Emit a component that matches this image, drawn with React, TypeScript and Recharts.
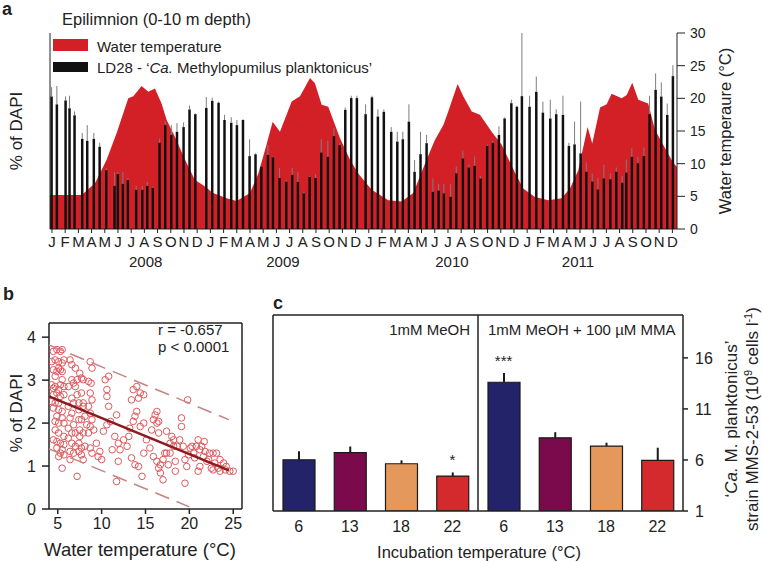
import React from "react";
import {
  ComposedChart,
  ScatterChart,
  Scatter,
  Area,
  Bar,
  ErrorBar,
  XAxis,
  YAxis,
  ReferenceLine,
  Cell,
} from "recharts";

// ---- panel a: monthly axis 2008-2011 (month index, J 2008 = 0)
const MONTH_LETTERS = ["J", "F", "M", "A", "M", "J", "J", "A", "S", "O", "N", "D"];
const MONTH_TICKS = Array.from({ length: 48 }, (_, i) => i);
const YEARS = ["2008", "2009", "2010", "2011"];
const YEAR_POS = [7.1, 17.5, 30.3, 39.85];

// LD28 sampling dates (month index), % of DAPI, and top of the error whisker
const LD28_MONTH = [
  0.0, 0.4, 1.06, 1.36, 1.74, 2.32, 2.7, 3.2, 3.64, 4.14, 4.77, 5.02, 5.4, 5.78, 6.41, 6.87, 7.25, 7.67,
  8.18, 8.61, 9.07, 9.5, 10.0, 10.45, 10.89, 11.34, 11.72, 12.17, 12.65, 13.1, 13.61, 14.04, 14.5, 15.0,
  15.45, 15.89, 16.39, 16.77, 17.27, 17.78, 18.23, 18.66, 19.11, 19.55, 20.0, 20.43, 20.93, 21.39, 21.82,
  22.25, 22.7, 23.13, 23.51, 23.79, 24.27, 24.72, 25.17, 25.73, 26.19, 26.61, 27.07, 27.5, 27.95, 28.41,
  28.89, 29.32, 29.72, 30.23, 30.66, 31.16, 31.61, 32.05, 32.5, 33.0, 33.43, 33.89, 34.32, 34.83, 35.25,
  35.63, 36.21, 36.72, 37.22, 37.78, 38.23, 38.74, 39.19, 39.62, 40.08, 40.51, 40.96, 41.39, 41.84, 42.33,
  42.78, 43.23, 43.54, 43.96, 44.42, 44.87, 45.3, 45.76, 46.19, 46.64, 47.07,
];
const LD28_DAPI = [
  3.38, 3.18, 3.28, 3.08, 2.9, 2.3, 2.25, 2.3, 2.1, 1.5, 1.1, 1.4, 1.15, 1.25, 1.0, 1.0, 1.1, 1.05,
  2.2, 2.65, 2.4, 2.48, 2.6, 3.05, 2.93, 0, 3.09, 3.27, 3.22, 2.78, 2.71, 2.65, 2.78, 1.86,
  1.91, 1.59, 1.89, 1.83, 1.3, 1.21, 1.38, 1.2, 0.91, 1.33, 1.3, 1.95, 1.84, 2.37, 2.14,
  3.04, 3.34, 3.34, 0, 2.93, 3.36, 2.87, 2.99, 2.48, 2.23, 2.29, 2.74, 1.46, 1.91, 2.19,
  0.95, 0.98, 0.91, 0.82, 1.42, 1.8, 1.57, 1.61, 1.29, 2.12, 2.2, 2.4, 2.82, 3.21, 3.12,
  3.39, 3.12, 3.5, 2.97, 2.82, 2.93, 2.91, 2.12, 2.16, 1.93, 1.46, 1.21, 1.01, 1.29, 1.27,
  1.46, 1.18, 1.44, 1.84, 1.68, 1.86, 2.93, 3.55, 3.38, 2.91, 3.9,
];
const LD28_TOP = [
  3.62, 3.65, 3.38, 3.4, 3.0, 2.45, 2.65, 2.45, 2.2, 1.55, 1.45, 1.45, 1.45, 1.3, 1.1, 1.1, 1.2, 1.08,
  2.3, 2.75, 2.65, 2.7, 2.72, 3.15, 2.95, 3.98, 3.37, 3.35, 3.25, 2.91, 2.85, 2.78, 2.8, 2.29,
  1.93, 1.6, 2.14, 1.85, 1.56, 1.25, 1.56, 1.45, 0.95, 1.35, 1.4, 2.29, 2.25, 2.57, 2.2,
  3.1, 3.4, 3.4, 3.93, 3.18, 3.4, 3.05, 3.05, 2.6, 2.48, 2.48, 3.18, 1.76, 2.48, 2.4,
  1.29, 1.15, 1.15, 1.15, 1.6, 2.0, 1.65, 1.85, 1.35, 2.15, 2.25, 2.62, 2.85, 3.3, 3.15,
  5.0, 3.4, 3.89, 3.25, 3.3, 3.05, 3.4, 2.2, 2.74, 3.25, 1.7, 1.42, 1.3, 1.64, 1.42,
  1.57, 1.35, 1.77, 2.06, 1.84, 2.08, 3.4, 3.97, 3.74, 3.2, 4.18,
];

// water temperature outline (month index, degrees C)
const TEMP_MONTH = [
  -0.15, 2.25, 3.26, 4.14, 4.9, 5.78, 6.16, 6.79, 7.3, 7.8, 8.3, 8.69, 9.32, 10.08, 10.83, 11.46,
  12.2, 13.23, 13.99, 15.0, 15.63, 16.14, 16.72, 17.27, 18.16, 18.79, 19.55, 19.92, 20.43, 20.93,
  21.82, 22.58, 23.2, 24.22, 25.48, 26.49, 27.37, 28.38, 29.0, 29.65, 30.02, 30.73, 31.16, 31.8,
  32.42, 33.31, 34.07, 35.08, 35.7, 36.59, 37.6, 38.61, 39.24, 39.87, 40.58, 40.93, 41.52, 42.02,
  42.4, 43.16, 43.54, 43.96, 44.42, 45.17, 45.68, 46.3, 47.07, 47.35,
];
const TEMP_C = [
  5.2, 5.2, 7.0, 10.6, 14.7, 20.0, 20.3, 21.9, 21.0, 21.5, 19.2, 16.7, 14.1, 10.6, 7.5, 6.7,
  5.5, 4.7, 4.3, 5.5, 8.5, 12.1, 16.4, 14.9, 19.5, 20.3, 23.1, 22.3, 19.0, 18.7,
  13.9, 10.6, 8.5, 6.0, 4.4, 4.2, 5.5, 10.6, 13.6, 15.9, 18.0, 22.2, 20.3, 18.0,
  17.5, 14.9, 12.9, 8.6, 6.2, 4.9, 4.4, 4.7, 6.2, 9.0, 15.6, 13.1, 18.6, 19.1,
  20.7, 20.0, 20.5, 22.4, 19.8, 19.2, 15.2, 12.9, 10.1, 9.5,
];

// ---- panel b: water temperature vs % of DAPI
const B_POINTS: [number, number][] = [
  [4.5, 3.67], [4.9, 3.71], [5.3, 3.67], [5.5, 3.71], [4.3, 3.43], [4.7, 3.47], [5.1, 3.43], [5.5, 3.4],
  [5.7, 3.47], [5.1, 3.28], [5.3, 3.24], [4.5, 3.24], [4.9, 3.2], [5.5, 3.2], [4.7, 3.09], [4.3, 2.89],
  [4.7, 2.85], [5.3, 2.89], [5.7, 2.85], [4.5, 2.81], [5.1, 2.78], [5.5, 3.01], [4.5, 2.66], [4.9, 2.7],
  [5.3, 2.62], [5.7, 2.66], [4.3, 2.5], [4.7, 2.47], [5.1, 2.47], [4.5, 2.35], [5.1, 2.31], [5.5, 2.27],
  [4.9, 2.16], [5.5, 2.12], [4.7, 2.04], [5.1, 2.0], [5.7, 2.0], [4.7, 1.84], [5.1, 1.77], [5.7, 1.69],
  [5.3, 1.53], [5.7, 1.5], [5.5, 1.38], [5.3, 1.3], [5.7, 1.26], [5.5, 0.95], [5.1, 1.22], [4.9, 1.57],
  [4.5, 1.61], [4.9, 1.42],
  [6.4, 3.47], [6.6, 3.36], [7.0, 3.28], [6.6, 3.01], [6.8, 2.93], [7.2, 3.01], [6.2, 2.85], [7.0, 2.85],
  [7.5, 3.16], [7.7, 3.05], [7.9, 3.01], [7.2, 2.66], [7.7, 2.7], [6.6, 2.58], [6.8, 2.47], [7.4, 2.47],
  [7.9, 2.47], [6.2, 2.39], [6.6, 2.23], [7.4, 2.31], [7.9, 2.39], [6.4, 2.12], [6.8, 1.96], [7.4, 2.08],
  [7.7, 2.08], [8.1, 2.16], [6.2, 1.88], [6.6, 1.77], [7.0, 1.77], [7.5, 1.69], [7.9, 1.77], [6.2, 1.65],
  [6.6, 1.53], [7.0, 1.46], [7.4, 1.53], [7.7, 1.42], [8.1, 1.46], [6.4, 1.34], [6.8, 1.3], [7.4, 1.34],
  [7.7, 1.26], [7.9, 1.15], [6.4, 1.15], [7.2, 0.76], [7.5, 1.84],
  [8.7, 3.43], [8.9, 3.28], [8.5, 2.97], [8.8, 2.93], [8.7, 2.7], [8.9, 2.54], [8.5, 2.39], [8.7, 2.23],
  [8.9, 2.08], [8.3, 1.96], [8.7, 1.92], [8.5, 1.77], [9.1, 1.84], [9.4, 1.53], [9.8, 1.34], [9.6, 1.22],
  [10.0, 1.15], [8.9, 1.3], [8.7, 1.42], [10.2, 1.81], [10.6, 1.96], [10.8, 3.09], [10.4, 3.01],
  [10.6, 2.78], [10.6, 2.62], [10.8, 2.39], [11.0, 2.04],
  [11.2, 1.38], [11.5, 1.69], [11.7, 2.19], [11.9, 1.53], [12.1, 1.38], [12.5, 1.61], [11.9, 1.11],
  [11.7, 0.64], [12.9, 1.46], [13.1, 1.69], [13.2, 1.88], [13.6, 2.04], [13.8, 2.16], [14.0, 2.27],
  [14.2, 2.58], [14.4, 2.7], [14.0, 2.85], [13.6, 2.78], [14.4, 1.92], [14.8, 1.3], [14.6, 0.76],
  [14.2, 0.99], [13.8, 1.03], [13.4, 1.19], [13.4, 2.54], [14.8, 2.66], [14.8, 2.0],
  [15.1, 1.61], [15.5, 1.42], [15.7, 1.84], [15.9, 2.08], [16.1, 2.19], [16.3, 2.27], [16.3, 2.0],
  [16.5, 2.04], [15.9, 1.22], [16.3, 1.11], [16.5, 0.95], [16.7, 1.03], [17.0, 1.15], [17.2, 1.3],
  [17.4, 1.3], [17.6, 1.03], [17.8, 1.3], [17.8, 1.53], [17.4, 1.81], [18.0, 1.69], [18.2, 1.61],
  [18.2, 1.46], [18.4, 1.11], [18.4, 0.88], [17.0, 0.68], [16.7, 0.84], [16.5, 1.77],
  [18.6, 1.46], [18.9, 1.61], [19.1, 1.92], [19.1, 2.12], [19.3, 1.46], [19.5, 1.15], [19.7, 0.99],
  [19.9, 1.26], [20.1, 1.42], [19.8, 2.54], [19.5, 0.6], [20.3, 1.46], [20.5, 1.3], [20.6, 1.19],
  [20.8, 1.46], [21.0, 1.61], [21.2, 1.38], [21.4, 1.46], [21.6, 1.22], [21.7, 1.57], [21.8, 1.34],
  [22.0, 1.11], [21.0, 0.88], [21.2, 0.99],
  [22.2, 1.15], [22.3, 1.3], [22.5, 0.95], [22.7, 1.3], [22.9, 1.07], [23.1, 1.3], [23.3, 0.95],
  [23.5, 1.15], [23.9, 1.07], [24.1, 0.91], [24.2, 0.99], [24.6, 0.88], [25.0, 0.88], [23.5, 0.88],
  [22.7, 0.91],
];
const FIT_LINE: [number, number][] = [[4, 2.62], [24.5, 0.9]];
const UPPER_LINE: [number, number][] = [[4, 3.82], [24.5, 2.08]];
const LOWER_LINE: [number, number][] = [[4, 1.4], [20, 0.05]];

// ---- panel c: incubation experiment
const INCUB_TEMPS = [6, 13, 18, 22, 6, 13, 18, 22];
const CELLS = [6.02, 6.71, 5.63, 4.42, 13.61, 8.17, 7.36, 5.96];
const CELLS_ERR = [0.84, 0.61, 0.33, 0.36, 0.92, 0.55, 0.33, 1.24];
const SIGNIF = ["", "", "", "*", "***", "", "", ""];
const C_COLORS = ["#23236a", "#7a0a4b", "#e4985b", "#d42a2e", "#23236a", "#7a0a4b", "#e4985b", "#d42a2e"];

const ldData = LD28_MONTH.map((m, i) => ({ m, ld: LD28_DAPI[i], err: [0, LD28_TOP[i] - LD28_DAPI[i]] }));
const tempData = TEMP_MONTH.map((m, i) => ({ m, temp: TEMP_C[i] }));

const bData = B_POINTS.map(([t, v]) => ({ t, v }));
const toLine = (pts: [number, number][]) => pts.map(([t, v]) => ({ t, v }));

const cData = CELLS.map((v, i) => ({
  i,
  v,
  err: [0, CELLS_ERR[i]],
  top: v + CELLS_ERR[i],
  sig: SIGNIF[i],
}));

const FONT = "'Liberation Sans', Arial, sans-serif";
const INK = "#222";
const A_DOMAIN: [number, number] = [-0.15, 47.35];
const A_MARGIN = { top: 33, right: 0, bottom: 2, left: 0 };

const Txt = ({ x, y, size = 15, anchor = "start", bold = false, children }: any) => (
  <div
    style={{
      position: "absolute",
      left: x,
      top: y,
      fontSize: size,
      lineHeight: 1,
      fontWeight: bold ? 700 : 400,
      whiteSpace: "nowrap",
      transform: `translate(${anchor === "middle" ? "-50%" : anchor === "end" ? "-100%" : "0"}, -50%)`,
    }}
  >
    {children}
  </div>
);

const VTxt = ({ x, y, size = 16, children }: any) => (
  <div
    style={{
      position: "absolute",
      left: x,
      top: y,
      fontSize: size,
      lineHeight: 1.15,
      whiteSpace: "nowrap",
      textAlign: "center",
      transform: "translate(-50%, -50%) rotate(-90deg)",
    }}
  >
    {children}
  </div>
);

const ringShape = (p: any) => (
  <circle cx={p.cx} cy={p.cy} r={3.3} fill="none" stroke="#dc5a5e" strokeWidth={1} />
);
const noShape = () => <g />;

const sigShape = (p: any) =>
  p.payload.sig ? (
    <text x={p.cx} y={p.cy - 7} textAnchor="middle" fontSize={15} fill={INK}>
      {p.payload.sig}
    </text>
  ) : (
    <g />
  );

// the axes of panel a; visible on the back layer, invisible on the bar layer
const aAxes = (show: boolean) => {
  const tick = show ? { fontSize: 14, fill: INK, fontFamily: FONT } : false;
  return [
    <XAxis
      key="m"
      xAxisId="m"
      dataKey="m"
      type="number"
      domain={A_DOMAIN}
      allowDataOverflow
      ticks={MONTH_TICKS}
      interval={0}
      tickFormatter={(v: number) => MONTH_LETTERS[Math.round(v) % 12]}
      height={27}
      tickSize={4}
      tickMargin={3}
      axisLine={show}
      tickLine={show}
      stroke={INK}
      tick={show ? { fontSize: 15, fill: INK, fontFamily: FONT } : false}
    />,
    <XAxis
      key="yr"
      xAxisId="yr"
      dataKey="m"
      type="number"
      domain={A_DOMAIN}
      allowDataOverflow
      ticks={YEAR_POS}
      interval={0}
      tickFormatter={(v: number) => YEARS[YEAR_POS.indexOf(v)] ?? ""}
      height={22}
      axisLine={false}
      tickLine={false}
      tickSize={0}
      tickMargin={0}
      tick={show ? { fontSize: 15, fill: INK, fontFamily: FONT } : false}
    />,
    <YAxis
      key="l"
      yAxisId="l"
      domain={[0, 5]}
      ticks={[0, 1, 2, 3, 4, 5]}
      width={50}
      tickSize={7}
      tickMargin={6}
      axisLine={show}
      tickLine={show}
      stroke={INK}
      tick={tick}
    />,
    <YAxis
      key="r"
      yAxisId="r"
      orientation="right"
      domain={[0, 30]}
      ticks={[0, 5, 10, 15, 20, 25, 30]}
      width={85}
      tickSize={8}
      tickMargin={5}
      axisLine={show}
      tickLine={show}
      stroke={INK}
      tick={tick}
    />,
  ];
};

export default function App() {
  return (
    <div
      style={{
        position: "absolute",
        left: 0,
        top: 0,
        width: 762,
        height: 563,
        background: "#fff",
        fontFamily: FONT,
        color: INK,
        overflow: "hidden",
      }}
    >
      {/* panel a: temperature layer with axes */}
      <div style={{ position: "absolute", left: 0, top: 0 }}>
        <ComposedChart width={762} height={280} data={tempData} margin={A_MARGIN}>
          {aAxes(true)}
          <Area
            xAxisId="m"
            yAxisId="r"
            dataKey="temp"
            type="linear"
            stroke="none"
            fill="#d32027"
            fillOpacity={1}
            isAnimationActive={false}
          />
          <ReferenceLine xAxisId="m" yAxisId="l" y={5} stroke={INK} />
        </ComposedChart>
      </div>
      {/* panel a: LD28 bar layer */}
      <div style={{ position: "absolute", left: 0, top: 0 }}>
        <ComposedChart width={762} height={280} data={ldData} margin={A_MARGIN}>
          {aAxes(false)}
          <Bar xAxisId="m" yAxisId="l" dataKey="ld" barSize={2.5} fill="#111" isAnimationActive={false}>
            <ErrorBar dataKey="err" width={0} stroke="#7d7d7d" strokeWidth={1} direction="y" />
          </Bar>
        </ComposedChart>
      </div>
      <Txt x={2} y={9} size={18} bold>a</Txt>
      <Txt x={62} y={19} size={16.5}>Epilimnion (0-10 m depth)</Txt>
      <div style={{ position: "absolute", left: 53, top: 39, width: 35, height: 12, background: "#d32027" }} />
      <div style={{ position: "absolute", left: 53, top: 62, width: 35, height: 10, background: "#111" }} />
      <Txt x={97} y={46} size={15}>Water temperature</Txt>
      <Txt x={97} y={67} size={15}>
        LD28 - ‘<i>Ca.</i> Methylopumilus planktonicus’
      </Txt>
      <VTxt x={17} y={131} size={17}>% of DAPI</VTxt>
      <VTxt x={725} y={131} size={16.5}>Water temperaure (°C)</VTxt>

      {/* panel b */}
      <div style={{ position: "absolute", left: 0, top: 300 }}>
        <ScatterChart width={250} height={240} margin={{ top: 23, right: 8, bottom: 0, left: 0 }}>
          <XAxis
            dataKey="t"
            type="number"
            domain={[4, 26]}
            allowDataOverflow
            ticks={[5, 10, 15, 20, 25]}
            height={31}
            tickSize={5}
            tickMargin={4}
            stroke={INK}
            strokeWidth={1.5}
            tick={{ fontSize: 16, fill: INK, fontFamily: FONT }}
          />
          <YAxis
            dataKey="v"
            type="number"
            domain={[0, 4.33]}
            allowDataOverflow
            ticks={[0, 1, 2, 3, 4]}
            width={49}
            tickSize={7}
            tickMargin={6}
            stroke={INK}
            strokeWidth={1.5}
            tick={{ fontSize: 16, fill: INK, fontFamily: FONT }}
          />
          <ReferenceLine y={4.33} stroke={INK} strokeWidth={1.5} />
          <ReferenceLine x={26} stroke={INK} strokeWidth={1.5} />
          <Scatter data={bData} shape={ringShape} isAnimationActive={false} />
          <Scatter
            data={toLine(UPPER_LINE)}
            shape={noShape}
            line={{ stroke: "#c98282", strokeWidth: 1.5, strokeDasharray: "15 8" }}
            isAnimationActive={false}
          />
          <Scatter
            data={toLine(LOWER_LINE)}
            shape={noShape}
            line={{ stroke: "#c98282", strokeWidth: 1.5, strokeDasharray: "15 8" }}
            isAnimationActive={false}
          />
          <Scatter
            data={toLine(FIT_LINE)}
            shape={noShape}
            line={{ stroke: "#8c1a1e", strokeWidth: 2.5 }}
            isAnimationActive={false}
          />
        </ScatterChart>
      </div>
      <Txt x={3} y={294} size={18} bold>b</Txt>
      <Txt x={158} y={329} size={15}>r = -0.657</Txt>
      <Txt x={158} y={346} size={15}>p &lt; 0.0001</Txt>
      <VTxt x={17} y={413} size={17}>% of DAPI</VTxt>
      <Txt x={140} y={550} size={18.5} anchor="middle">Water temperature (°C)</Txt>

      {/* panel c */}
      <div style={{ position: "absolute", left: 250, top: 300 }}>
        <ComposedChart width={512} height={263} data={cData} margin={{ top: 15, right: 39, bottom: 22, left: 0 }}>
          <XAxis
            dataKey="i"
            type="number"
            domain={[-0.5, 7.5]}
            ticks={[0, 1, 2, 3, 4, 5, 6, 7]}
            interval={0}
            tickFormatter={(v: number) => String(INCUB_TEMPS[v])}
            height={30}
            tickLine={false}
            tickSize={0}
            tickMargin={10}
            stroke={INK}
            strokeWidth={1.5}
            tick={{ fontSize: 16, fill: INK, fontFamily: FONT }}
          />
          <YAxis
            yAxisId="l"
            domain={[1, 20.2]}
            allowDataOverflow
            ticks={[1, 6, 11, 16]}
            width={23}
            tickSize={5}
            tick={false}
            stroke={INK}
            strokeWidth={1.5}
          />
          <YAxis
            yAxisId="r"
            orientation="right"
            domain={[1, 20.2]}
            allowDataOverflow
            ticks={[1, 6, 11, 16]}
            width={40}
            tickSize={5}
            tickMargin={7}
            stroke={INK}
            strokeWidth={1.5}
            tick={{ fontSize: 16, fill: INK, fontFamily: FONT }}
          />
          <ReferenceLine yAxisId="r" y={20.2} stroke={INK} strokeWidth={1.5} />
          <ReferenceLine yAxisId="r" x={3.5} stroke={INK} strokeWidth={1.5} />
          <Bar yAxisId="r" dataKey="v" barSize={32} stroke="#1a1a1a" strokeWidth={1.2} isAnimationActive={false}>
            {cData.map((d) => (
              <Cell key={d.i} fill={C_COLORS[d.i]} />
            ))}
            <ErrorBar dataKey="err" width={0} stroke="#1a1a1a" strokeWidth={2} direction="y" />
          </Bar>
          <Scatter yAxisId="r" dataKey="top" shape={sigShape} isAnimationActive={false} />
        </ComposedChart>
      </div>
      <Txt x={273} y={303} size={18} bold>c</Txt>
      <Txt x={470} y={329} size={15} anchor="end">1mM MeOH</Txt>
      <Txt x={488} y={329} size={15}>1mM MeOH + 100 µM MMA</Txt>
      <Txt x={479} y={552} size={16.5} anchor="middle">Incubation temperature (°C)</Txt>
      <VTxt x={742} y={419} size={17}>
        <div>‘<i>Ca.</i> M. planktonicus’</div>
        <div>
          strain MMS-2-53 (10<sup style={{ fontSize: "0.65em" }}>9</sup> cells l<sup style={{ fontSize: "0.65em" }}>-1</sup>)
        </div>
      </VTxt>
    </div>
  );
}
